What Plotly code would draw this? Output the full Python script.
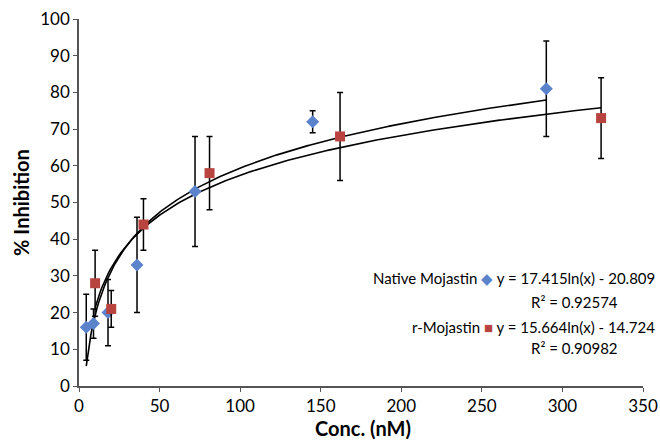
import numpy as np
import plotly.graph_objects as go

# Native Mojastin measurements
native_conc = [4.5, 9, 18, 36, 72, 145, 290]
native_inhib = [16, 17, 20, 33, 53, 72, 81]
native_err = [9, 4, 9, 13, 15, 3, 13]

# Recombinant Mojastin measurements
recomb_conc = [10, 20, 40, 81, 162, 324]
recomb_inhib = [28, 21, 44, 58, 68, 73]
recomb_err = [9, 5, 7, 10, 12, 11]

# Logarithmic trendline coefficients: y = a*ln(x) + b, with R²
native_fit = (17.415, -20.809, 0.92574)
recomb_fit = (15.664, -14.724, 0.90982)

x_ticks = [0, 50, 100, 150, 200, 250, 300, 350]
y_ticks = [0, 10, 20, 30, 40, 50, 60, 70, 80, 90, 100]

x_title = "Conc. (nM)"
y_title = "% Inhibition"

BLUE = "#5B83CC"
RED = "#B8433F"
FONT = "Lato, Liberation Sans, Arial, sans-serif"

fig = go.Figure()


def trend(xs, coef):
    xx = np.linspace(min(xs), max(xs), 300)
    return xx, coef[0] * np.log(xx) + coef[1]


for xs, coef in ((native_conc, native_fit), (recomb_conc, recomb_fit)):
    tx, ty = trend(xs, coef)
    fig.add_trace(go.Scatter(x=tx, y=ty, mode="lines",
                             line=dict(color="black", width=1.6),
                             hoverinfo="skip", showlegend=False))

fig.add_trace(go.Scatter(
    x=native_conc, y=native_inhib, mode="markers", name="Native Mojastin",
    marker=dict(symbol="diamond", size=10, color=BLUE),
    error_y=dict(type="data", array=native_err, color="black",
                 thickness=1.5, width=3),
    showlegend=False))

fig.add_trace(go.Scatter(
    x=recomb_conc, y=recomb_inhib, mode="markers", name="r-Mojastin",
    marker=dict(symbol="square", size=10, color=RED),
    error_y=dict(type="data", array=recomb_err, color="black",
                 thickness=1.5, width=3),
    showlegend=False))

axis_common = dict(
    showgrid=False, zeroline=False, showline=True, automargin=False,
    linecolor="#555555", linewidth=1.5,
    ticks="outside", ticklen=4, tickcolor="#555555", tickwidth=1.2,
    tickfont=dict(family=FONT, size=17, color="black"),
)

fig.update_xaxes(range=[0, 350], tickvals=x_ticks, **axis_common)
fig.update_yaxes(range=[0, 100], tickvals=y_ticks, **axis_common)

# Axis titles placed as annotations for exact positioning
title_font = dict(family=FONT, size=20, color="black")
fig.add_annotation(xref="paper", yref="paper", x=0.503, y=-0.1499,
                   xanchor="center", yanchor="bottom", showarrow=False,
                   borderpad=0, text=f"<b>{x_title}</b>", font=title_font)
fig.add_annotation(xref="paper", yref="paper", x=-0.1028, y=0.499,
                   xanchor="center", yanchor="middle", showarrow=False,
                   textangle=-90, text=f"<b>{y_title}</b>", font=title_font)


def eq_text(coef):
    return f"y = {coef[0]:.3f}ln(x) - {abs(coef[1]):.3f}"


legend_font = dict(family=FONT, size=15, color="black")
entries = [
    ("Native Mojastin", "◆", BLUE, native_fit, 0.294, 0.229),
    ("r-Mojastin", "■", RED, recomb_fit, 0.161, 0.104),
]
for label, sym, color, coef, y_eq, y_r2 in entries:
    fig.add_annotation(
        xref="paper", yref="paper", x=1.024, y=y_eq, xanchor="right",
        yanchor="middle", showarrow=False, font=legend_font,
        text=f"{label} <span style='color:{color}'>{sym}</span> {eq_text(coef)}")
    fig.add_annotation(
        xref="paper", yref="paper", x=0.879, y=y_r2, xanchor="center",
        yanchor="middle", showarrow=False, font=legend_font,
        text=f"R² = {coef[2]:.5f}")

fig.update_layout(
    width=660, height=442,
    margin=dict(l=79, r=17, t=19, b=56),
    plot_bgcolor="white", paper_bgcolor="white",
)

fig.write_html(
    "out.html",
    post_script="document.body.style.margin='0';document.body.style.overflow='hidden';",
)
